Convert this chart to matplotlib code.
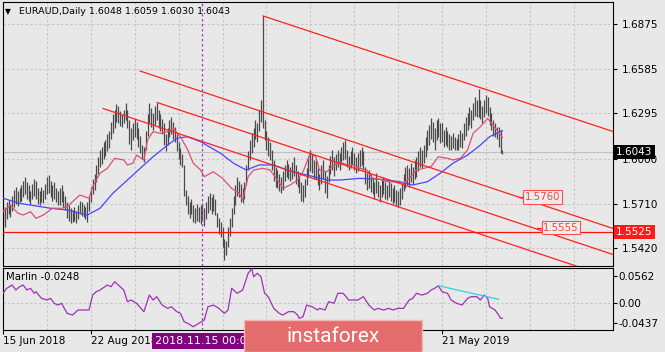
import matplotlib
matplotlib.use("Agg")
import matplotlib.pyplot as plt
import matplotlib.transforms as mtransforms
from matplotlib.patches import Rectangle

# daily bars, index 0 = 15 Jun 2018
highs = [
    1.5700, 1.5690, 1.5720, 1.5735, 1.5710, 1.5760, 1.5800, 1.5820, 1.5790, 1.5810,
    1.5830, 1.5860, 1.5885, 1.5850, 1.5830, 1.5790, 1.5840, 1.5870, 1.5860, 1.5810,
    1.5790, 1.5820, 1.5800, 1.5840, 1.5880, 1.5895, 1.5860, 1.5830, 1.5850, 1.5810,
    1.5790, 1.5810, 1.5830, 1.5790, 1.5760, 1.5720, 1.5700, 1.5680, 1.5670, 1.5690,
    1.5660, 1.5700, 1.5730, 1.5720, 1.5700, 1.5690, 1.5720, 1.5760, 1.5820, 1.5870,
    1.5905, 1.5960, 1.6010, 1.6060, 1.6080, 1.6110, 1.6125, 1.6160, 1.6180, 1.6240,
    1.6290, 1.6320, 1.6357, 1.6340, 1.6310, 1.6290, 1.6320, 1.6360, 1.6320, 1.6250,
    1.6200, 1.6230, 1.6260, 1.6240, 1.6200, 1.6150, 1.6090, 1.6080, 1.6180, 1.6290,
    1.6362, 1.6330, 1.6300, 1.6340, 1.6362, 1.6320, 1.6290, 1.6260, 1.6230, 1.6160,
    1.6200, 1.6250, 1.6270, 1.6240, 1.6210, 1.6160, 1.6110, 1.6070, 1.6030, 1.5960,
    1.5800, 1.5760, 1.5720, 1.5740, 1.5700, 1.5680, 1.5710, 1.5690, 1.5700, 1.5712,
    1.5680, 1.5720, 1.5760, 1.5777, 1.5750, 1.5770, 1.5740, 1.5650, 1.5620, 1.5590,
    1.5560, 1.5480, 1.5470, 1.5560, 1.5620, 1.5680, 1.5760, 1.5830, 1.5885, 1.5860,
    1.5840, 1.5810, 1.5850, 1.5960, 1.6050, 1.6120, 1.6166, 1.6200, 1.6252, 1.6230,
    1.6320, 1.6382, 1.6927, 1.6250, 1.6180, 1.6140, 1.6110, 1.6058, 1.5990, 1.5950,
    1.5930, 1.5900, 1.5880, 1.5920, 1.5960, 1.5993, 1.5970, 1.5950, 1.5980, 1.6015,
    1.5960, 1.5920, 1.5885, 1.5850, 1.5830, 1.5870, 1.5940, 1.6020, 1.6058, 1.6030,
    1.5990, 1.5993, 1.5940, 1.5900, 1.5960, 1.5993, 1.5920, 1.5890, 1.5960, 1.6020,
    1.6058, 1.6010, 1.6030, 1.6060, 1.6040, 1.6080, 1.6110, 1.6123, 1.6060, 1.6020,
    1.6050, 1.6080, 1.6040, 1.6010, 1.6040, 1.6060, 1.6080, 1.6050, 1.5950, 1.5910,
    1.5930, 1.5900, 1.5880, 1.5850, 1.5906, 1.5860, 1.5830, 1.5863, 1.5880, 1.5850,
    1.5830, 1.5860, 1.5842, 1.5810, 1.5830, 1.5800, 1.5790, 1.5810, 1.5840, 1.5900,
    1.5950, 1.5960, 1.5940, 1.5971, 1.5950, 1.5990, 1.6010, 1.6050, 1.6080, 1.6060,
    1.6090, 1.6140, 1.6188, 1.6220, 1.6263, 1.6240, 1.6200, 1.6250, 1.6263, 1.6230,
    1.6231, 1.6190, 1.6209, 1.6180, 1.6160, 1.6150, 1.6166, 1.6140, 1.6130, 1.6160,
    1.6188, 1.6170, 1.6230, 1.6274, 1.6300, 1.6339, 1.6320, 1.6360, 1.6404, 1.6380,
    1.6451, 1.6382, 1.6340, 1.6380, 1.6415, 1.6400, 1.6339, 1.6300, 1.6252, 1.6230,
    1.6210, 1.6209, 1.6188, 1.6059,
]
lows = [
    1.5480, 1.5560, 1.5610, 1.5640, 1.5625, 1.5660, 1.5690, 1.5710, 1.5695, 1.5720,
    1.5730, 1.5750, 1.5770, 1.5740, 1.5725, 1.5710, 1.5740, 1.5760, 1.5740, 1.5705,
    1.5700, 1.5720, 1.5715, 1.5740, 1.5770, 1.5780, 1.5750, 1.5730, 1.5740, 1.5720,
    1.5700, 1.5700, 1.5720, 1.5690, 1.5670, 1.5620, 1.5600, 1.5582, 1.5590, 1.5600,
    1.5585, 1.5610, 1.5640, 1.5630, 1.5625, 1.5610, 1.5590, 1.5660, 1.5720, 1.5770,
    1.5800, 1.5850, 1.5900, 1.5950, 1.5970, 1.6000, 1.6020, 1.6050, 1.6070, 1.6130,
    1.6170, 1.6200, 1.6240, 1.6230, 1.6215, 1.6210, 1.6230, 1.6250, 1.6200, 1.6100,
    1.6060, 1.6120, 1.6140, 1.6130, 1.6080, 1.6040, 1.6000, 1.5982, 1.6060, 1.6150,
    1.6230, 1.6210, 1.6190, 1.6220, 1.6250, 1.6200, 1.6180, 1.6160, 1.6090, 1.6050,
    1.6090, 1.6140, 1.6160, 1.6130, 1.6110, 1.6050, 1.6000, 1.5960, 1.5950, 1.5760,
    1.5700, 1.5640, 1.5620, 1.5640, 1.5590, 1.5585, 1.5600, 1.5590, 1.5580, 1.5600,
    1.5565, 1.5610, 1.5650, 1.5670, 1.5640, 1.5660, 1.5636, 1.5560, 1.5510, 1.5496,
    1.5430, 1.5345, 1.5380, 1.5430, 1.5500, 1.5560, 1.5640, 1.5700, 1.5760, 1.5750,
    1.5720, 1.5712, 1.5740, 1.5830, 1.5930, 1.5990, 1.6040, 1.6080, 1.6130, 1.6110,
    1.6180, 1.6240, 1.6200, 1.6120, 1.6060, 1.6020, 1.5993, 1.5930, 1.5860, 1.5820,
    1.5810, 1.5790, 1.5777, 1.5800, 1.5860, 1.5880, 1.5870, 1.5860, 1.5870, 1.5890,
    1.5840, 1.5820, 1.5780, 1.5730, 1.5723, 1.5750, 1.5830, 1.5880, 1.5920, 1.5910,
    1.5870, 1.5870, 1.5830, 1.5800, 1.5840, 1.5870, 1.5780, 1.5744, 1.5850, 1.5900,
    1.5930, 1.5890, 1.5928, 1.5950, 1.5930, 1.5970, 1.5990, 1.6000, 1.5950, 1.5928,
    1.5940, 1.5960, 1.5930, 1.5906, 1.5920, 1.5950, 1.5960, 1.5930, 1.5840, 1.5800,
    1.5810, 1.5788, 1.5770, 1.5740, 1.5780, 1.5750, 1.5723, 1.5750, 1.5770, 1.5740,
    1.5734, 1.5750, 1.5730, 1.5710, 1.5720, 1.5700, 1.5690, 1.5701, 1.5740, 1.5790,
    1.5810, 1.5830, 1.5820, 1.5850, 1.5840, 1.5870, 1.5885, 1.5920, 1.5950, 1.5940,
    1.5971, 1.6010, 1.6060, 1.6090, 1.6130, 1.6110, 1.6058, 1.6120, 1.6140, 1.6101,
    1.6110, 1.6080, 1.6090, 1.6080, 1.6060, 1.6058, 1.6070, 1.6060, 1.6058, 1.6060,
    1.6080, 1.6070, 1.6123, 1.6150, 1.6188, 1.6220, 1.6200, 1.6252, 1.6280, 1.6270,
    1.6274, 1.6260, 1.6231, 1.6274, 1.6300, 1.6280, 1.6220, 1.6188, 1.6150, 1.6145,
    1.6130, 1.6080, 1.6038, 1.6030,
]
last_ohlc = [1.6048, 1.6059, 1.6030, 1.6043]

# moving averages (bar index, price)
fast_idx = [0, 4, 8, 11, 15, 18, 22, 27, 32, 35, 38, 42, 47, 49, 53, 57, 61, 66, 68, 71,
            73, 77, 79, 82, 86, 90, 93, 97, 101, 104, 108, 110, 115, 120, 125, 129, 131, 134, 137, 142,
            146, 150, 153, 157, 161, 164, 168, 171, 173, 177, 180, 184, 188, 191, 195, 199, 202, 206, 210, 214,
            219, 223, 226, 230, 234, 238, 243, 246, 250, 254, 257, 261, 265, 267, 270, 272, 273]
fast_ma = [1.5658, 1.5701, 1.5649, 1.5636, 1.5658, 1.5615, 1.5636, 1.5680, 1.5680, 1.5690,
           1.5723, 1.5766, 1.5745, 1.5820, 1.5907, 1.5939, 1.6004, 1.5993, 1.5961, 1.5972,
           1.6025, 1.5993, 1.6123, 1.6177, 1.6166, 1.6177, 1.6199, 1.6144, 1.6058, 1.5972,
           1.5928, 1.5885, 1.5917, 1.5874, 1.5809, 1.5777, 1.5734, 1.5885, 1.5928, 1.5939,
           1.5928, 1.5863, 1.5809, 1.5831, 1.5863, 1.5917, 1.6036, 1.6014, 1.5928, 1.5917,
           1.5950, 1.5982, 1.5961, 1.5961, 1.5939, 1.5928, 1.5874, 1.5868, 1.5852, 1.5852,
           1.5842, 1.5885, 1.5928, 1.5939, 1.5950, 1.6014, 1.6004, 1.5993, 1.6004, 1.6058,
           1.6166, 1.6209, 1.6263, 1.6231, 1.6188, 1.6155, 1.6140]
slow_idx = [0, 9, 26, 35, 46, 53, 60, 68, 75, 82, 90, 95, 101, 108, 119, 126, 133, 140,
            148, 155, 162, 170, 177, 184, 195, 206, 217, 224, 232, 239, 246, 254, 261, 266, 273]
slow_ma = [1.5745, 1.5712, 1.5680, 1.5669, 1.5636, 1.5680, 1.5777, 1.5863, 1.5939, 1.6014,
           1.6090, 1.6134, 1.6144, 1.6112, 1.6036, 1.5972, 1.5928, 1.5961, 1.5961, 1.5928,
           1.5907, 1.5885, 1.5863, 1.5863, 1.5874, 1.5868, 1.5852, 1.5831, 1.5852, 1.5907,
           1.5972, 1.6025, 1.6090, 1.6144, 1.6183]

# Marlin oscillator
osc_idx = [0, 2, 5, 7, 9, 11, 13, 15, 17, 18, 21, 24, 26, 28, 30, 32, 35, 38, 41, 44,
           47, 49, 51, 53, 57, 59, 61, 63, 66, 68, 70, 73, 77, 80, 82, 84, 87, 90, 92, 95,
           97, 99, 101, 104, 107, 110, 112, 115, 118, 121, 123, 125, 128, 131, 134, 136, 137, 139, 141, 143,
           145, 148, 151, 153, 156, 159, 161, 162, 164, 166, 169, 172, 173, 176, 178, 181, 183, 186, 189, 192,
           194, 197, 200, 203, 205, 208, 211, 213, 216, 219, 222, 224, 226, 229, 232, 234, 236, 238, 240, 243,
           245, 248, 251, 254, 256, 259, 261, 263, 265, 266, 269, 271, 272, 273]
osc_val = [0.0154, 0.0235, 0.0288, 0.0207, 0.0260, 0.0288, 0.0207, 0.0235, 0.0154, 0.0180,
           0.0073, 0.0046, 0.0073, -0.0007, -0.0035, -0.0007, -0.0169, -0.0196, -0.0115, -0.0115,
           -0.0115, 0.0127, 0.0180, 0.0207, 0.0288, 0.0260, 0.0341, 0.0288, 0.0207, 0.0019,
           0.0046, -0.0007, -0.0142, 0.0127, 0.0046, 0.0100, -0.0035, -0.0088, -0.0062, -0.0142,
           -0.0169, -0.0304, -0.0330, -0.0384, -0.0330, -0.0277, -0.0062, -0.0035, -0.0088, -0.0169,
           -0.0115, 0.0235, 0.0154, 0.0207, 0.0477, 0.0550, 0.0422, 0.0477, 0.0422, 0.0154,
           0.0100, -0.0088, -0.0169, -0.0196, -0.0142, -0.0142, -0.0196, -0.0249, -0.0223, -0.0035,
           -0.0062, -0.0115, -0.0088, -0.0115, 0.0019, -0.0007, 0.0154, 0.0154, 0.0046, 0.0046,
           0.0046, 0.0100, -0.0035, -0.0115, -0.0088, -0.0115, -0.0088, -0.0115, -0.0088, -0.0088,
           0.0046, 0.0073, 0.0154, 0.0127, 0.0154, 0.0207, 0.0235, 0.0277, 0.0180, 0.0154,
           0.0046, -0.0007, -0.0035, 0.0073, 0.0100, 0.0100, 0.0046, 0.0127, 0.0073, -0.0062,
           -0.0115, -0.0196, -0.0249, -0.0248]
div_idx = [238, 271]
div_val = [0.0277, 0.0057]

# analyst lines
chan_i0 = [142.2, 74.9, 84.2, 54.7]
chan_p0 = [1.6927, 1.6570, 1.6366, 1.6327]
chan_i1 = [333.5, 333.5, 333.5, 333.5]
chan_p1 = [1.6178, 1.5549, 1.5380, 1.5226]
level = 1.5525
label_i = [284.5, 294.5]
label_p = [1.5753, 1.5555]
label_txt = ["1.5760", "1.5555"]
cursor_idx = 109

price_ticks = [1.6875, 1.6585, 1.6295, 1.6000, 1.5710, 1.5420]
date_idx = [0, 48, 240]
date_txt = ["15 Jun 2018", "22 Aug 2018", "21 May 2019"]

assert len(highs) == len(lows)
assert len(fast_idx) == len(fast_ma) and len(slow_idx) == len(slow_ma)
assert len(osc_idx) == len(osc_val)

W, H = 665, 352
BG = "#e8e8e8"
GRID = "#c4c4c4"
plt.rcParams["font.family"] = "DejaVu Sans"

fig = plt.figure(figsize=(W / 100, H / 100), dpi=100)
fig.patch.set_facecolor(BG)


def fx(px):
    return px / W


def fy(py):
    return 1 - py / H


ax = fig.add_axes([fx(2.7), fy(266), fx(613) - fx(2.7), fy(2) - fy(266)])
osc = fig.add_axes([fx(2.7), fy(330), fx(613) - fx(2.7), fy(268) - fy(330)])
xmin, xmax = -0.2, 333.5
for a in (ax, osc):
    a.set_facecolor(BG)
    a.set_xlim(xmin, xmax)
    for s in a.spines.values():
        s.set_color("black")
        s.set_linewidth(0.8)
    for g in range(0, 334, 24):
        a.axvline(g, color=GRID, lw=0.8, ls=(0, (2, 2)), zorder=0)

ax.set_ylim(1.53056, 1.70177)
for t in price_ticks:
    ax.axhline(t, color=GRID, lw=0.8, ls=(0, (2, 2)), zorder=0)

# bid line
ax.axhline(last_ohlc[3], color="#c0c0c0", lw=0.8, zorder=1)

n = len(highs)
ax.vlines(range(n), lows, highs, colors="#4a4a4a", lw=0.9, zorder=2)

ax.plot(slow_idx, slow_ma, color="#4646ff", lw=0.9, zorder=3)
ax.plot(fast_idx, fast_ma, color="#e0506e", lw=0.9, zorder=3)

for i0, p0, i1, p1 in zip(chan_i0, chan_p0, chan_i1, chan_p1):
    ax.plot([i0, i1], [p0, p1], color="#ff2020", lw=0.9, zorder=4)
ax.axhline(level, color="#ff1010", lw=0.9, zorder=4)

for li, lp, lt in zip(label_i, label_p, label_txt):
    ax.plot([li - 2.6, li], [lp, lp], color="#ff2020", lw=0.9, zorder=5)
    ax.text(li + 0.8, lp, lt, fontsize=7.3, color="#ff4040", ha="left", va="center",
            zorder=6, bbox=dict(boxstyle="square,pad=0.15", fc="#ececec", ec="#ff5050", lw=0.8))

ax.axvline(cursor_idx, color="#a040c0", lw=0.9, ls=(0, (2, 2)), zorder=5)
osc.axvline(cursor_idx, color="#a040c0", lw=0.9, ls=(0, (2, 2)), zorder=5)

ax.yaxis.tick_right()
ax.set_yticks(price_ticks)
ax.set_yticklabels([f"{t:.4f}" for t in price_ticks])
ax.tick_params(axis="y", labelsize=7.5, length=3, width=0.8, pad=3, colors="black")
ax.tick_params(axis="x", bottom=False, labelbottom=False)

tr = mtransforms.blended_transform_factory(ax.transAxes, ax.transData)
ax.text(1.005, last_ohlc[3], f"{last_ohlc[3]:.4f}", transform=tr, fontsize=7.5, color="white",
        ha="left", va="center", zorder=10, clip_on=False,
        bbox=dict(boxstyle="square,pad=0.2", fc="black", ec="none"))
ax.text(1.005, level, f"{level:.4f}", transform=tr, fontsize=7.5, color="white",
        ha="left", va="center", zorder=10, clip_on=False,
        bbox=dict(boxstyle="square,pad=0.2", fc="#ff1a1a", ec="none"))

# oscillator
osc.set_ylim(-0.0437, 0.0562)
osc.axhline(0, color=GRID, lw=0.8, ls=(0, (2, 2)), zorder=0)
osc.plot(osc_idx, osc_val, color="#a030b8", lw=0.9, zorder=3)
osc.plot(div_idx, div_val, color="#30d0e0", lw=0.9, zorder=4)
osc.yaxis.tick_right()
osc.set_yticks([0.0438, 0.0, -0.0320])
osc.set_yticklabels(["0.0562", "0.00", "-0.0437"])
osc.tick_params(axis="y", labelsize=7.5, length=3, width=0.8, pad=1, colors="black")
osc.set_xticks(date_idx)
osc.set_xticklabels([])
osc.tick_params(axis="x", length=3, width=0.8, direction="out")

trx = mtransforms.blended_transform_factory(osc.transData, fig.transFigure)
for di, dt in zip(date_idx, date_txt):
    osc.text(di, fy(341), dt, transform=trx, fontsize=7.5, ha="left", va="center", clip_on=False)

# titles
fig.text(fx(5), fy(12), "\u25bc", fontsize=5.5, ha="left", va="center")
fig.text(fx(19), fy(12), "EURAUD,Daily 1.6048 1.6059 1.6030 1.6043", fontsize=6.8,
         ha="left", va="center")
fig.text(fx(6), fy(277), "Marlin -0.0248", fontsize=7.3, ha="left", va="center")

# crosshair date label
fig.add_artist(Rectangle((fx(152), fy(349)), fx(250) - fx(152), fy(333) - fy(349),
                         transform=fig.transFigure, fc="#800080", ec="none", zorder=20))
fig.text(fx(155), fy(341), "2018.11.15 00:00", fontsize=8, color="white", ha="left",
         va="center", zorder=21)

# watermark
fig.add_artist(Rectangle((fx(243.5), fy(352)), fx(422) - fx(243.5), fy(320) - fy(352),
                         transform=fig.transFigure, fc="#e46c6c", ec="#f2b8b8", lw=1.0, zorder=30))
fig.text(fx(333), fy(341.5), "instaforex", fontsize=15, color="white", family="Roboto",
         ha="center", va="baseline", zorder=31)

fig.savefig("out.png", dpi=100, facecolor=BG)
